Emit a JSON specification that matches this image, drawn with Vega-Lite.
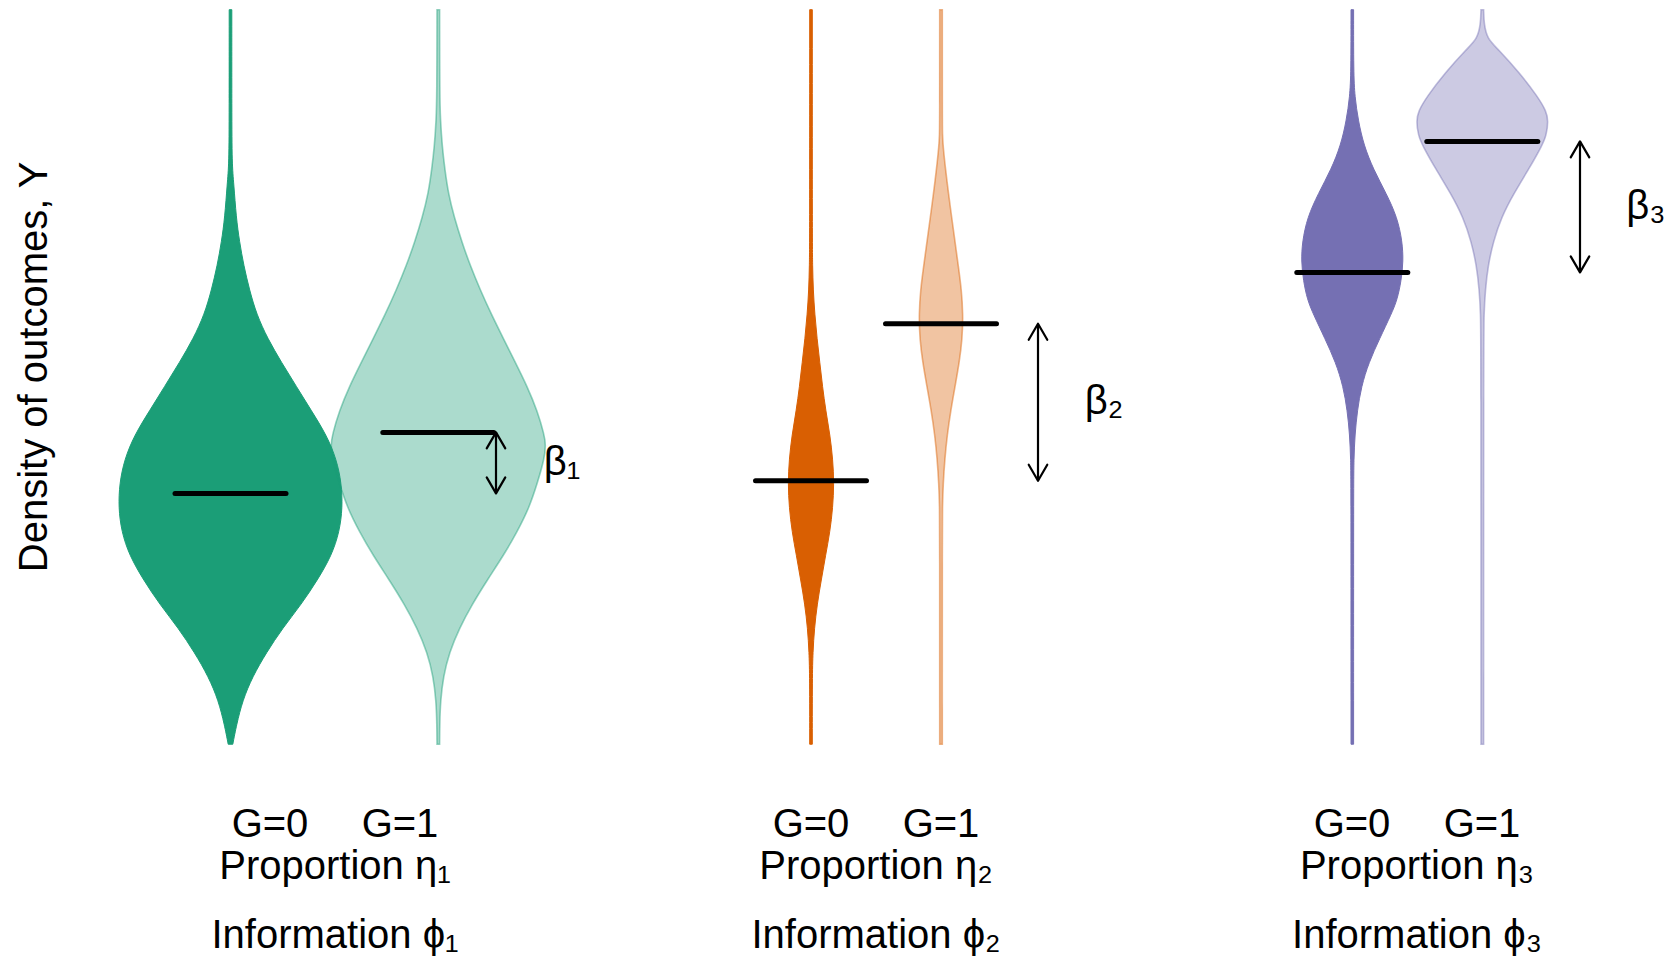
{
  "$schema": "https://vega.github.io/schema/vega-lite/v6.json",
  "width": 1673,
  "height": 956,
  "autosize": {"type": "fit", "contains": "padding"},
  "padding": 0,
  "background": "white",
  "config": {"view": {"stroke": null}, "font": "Liberation Sans"},
  "datasets": {
    "violins": [
      {"id": "1-0", "grp": "1", "G": "0", "pos": 2.305, "mean": 3.37},
      {"id": "1-1", "grp": "1", "G": "1", "pos": 4.383, "mean": 4.19},
      {"id": "2-0", "grp": "2", "G": "0", "pos": 8.11, "mean": 3.54},
      {"id": "2-1", "grp": "2", "G": "1", "pos": 9.41, "mean": 5.65},
      {"id": "3-0", "grp": "3", "G": "0", "pos": 13.523, "mean": 6.34},
      {"id": "3-1", "grp": "3", "G": "1", "pos": 14.823, "mean": 8.10}
    ],
    "density": [
      {"id": "1-0", "y": 9.87, "d": 0.013}, {"id": "1-0", "y": 8.5, "d": 0.013}, {"id": "1-0", "y": 7.79, "d": 0.015}, {"id": "1-0", "y": 7.532, "d": 0.033}, {"id": "1-0", "y": 7.078, "d": 0.057}, {"id": "1-0", "y": 6.753, "d": 0.09}, {"id": "1-0", "y": 6.428, "d": 0.133}, {"id": "1-0", "y": 6.104, "d": 0.19}, {"id": "1-0", "y": 5.779, "d": 0.26}, {"id": "1-0", "y": 5.454, "d": 0.37}, {"id": "1-0", "y": 5.13, "d": 0.51}, {"id": "1-0", "y": 4.805, "d": 0.66}, {"id": "1-0", "y": 4.48, "d": 0.81}, {"id": "1-0", "y": 4.155, "d": 0.96}, {"id": "1-0", "y": 3.83, "d": 1.06}, {"id": "1-0", "y": 3.506, "d": 1.11}, {"id": "1-0", "y": 3.181, "d": 1.12}, {"id": "1-0", "y": 2.857, "d": 1.09}, {"id": "1-0", "y": 2.532, "d": 1.01}, {"id": "1-0", "y": 2.207, "d": 0.87}, {"id": "1-0", "y": 1.883, "d": 0.71}, {"id": "1-0", "y": 1.558, "d": 0.52}, {"id": "1-0", "y": 1.233, "d": 0.36}, {"id": "1-0", "y": 0.908, "d": 0.22}, {"id": "1-0", "y": 0.584, "d": 0.12}, {"id": "1-0", "y": 0.259, "d": 0.06}, {"id": "1-0", "y": 0.0, "d": 0.023},
      {"id": "1-1", "y": 9.87, "d": 0.013}, {"id": "1-1", "y": 8.70, "d": 0.014}, {"id": "1-1", "y": 8.376, "d": 0.022}, {"id": "1-1", "y": 8.05, "d": 0.038}, {"id": "1-1", "y": 7.727, "d": 0.065}, {"id": "1-1", "y": 7.40, "d": 0.10}, {"id": "1-1", "y": 7.078, "d": 0.16}, {"id": "1-1", "y": 6.753, "d": 0.235}, {"id": "1-1", "y": 6.428, "d": 0.32}, {"id": "1-1", "y": 6.104, "d": 0.42}, {"id": "1-1", "y": 5.779, "d": 0.53}, {"id": "1-1", "y": 5.454, "d": 0.65}, {"id": "1-1", "y": 5.13, "d": 0.77}, {"id": "1-1", "y": 4.805, "d": 0.89}, {"id": "1-1", "y": 4.48, "d": 0.99}, {"id": "1-1", "y": 4.155, "d": 1.06}, {"id": "1-1", "y": 4.025, "d": 1.075}, {"id": "1-1", "y": 3.83, "d": 1.06}, {"id": "1-1", "y": 3.506, "d": 0.99}, {"id": "1-1", "y": 3.181, "d": 0.91}, {"id": "1-1", "y": 2.857, "d": 0.79}, {"id": "1-1", "y": 2.532, "d": 0.65}, {"id": "1-1", "y": 2.207, "d": 0.49}, {"id": "1-1", "y": 1.883, "d": 0.34}, {"id": "1-1", "y": 1.558, "d": 0.21}, {"id": "1-1", "y": 1.233, "d": 0.11}, {"id": "1-1", "y": 0.908, "d": 0.05}, {"id": "1-1", "y": 0.584, "d": 0.022}, {"id": "1-1", "y": 0.259, "d": 0.014}, {"id": "1-1", "y": 0.0, "d": 0.013},
      {"id": "2-0", "y": 9.87, "d": 0.013}, {"id": "2-0", "y": 6.753, "d": 0.013}, {"id": "2-0", "y": 6.428, "d": 0.016}, {"id": "2-0", "y": 6.104, "d": 0.022}, {"id": "2-0", "y": 5.779, "d": 0.038}, {"id": "2-0", "y": 5.454, "d": 0.06}, {"id": "2-0", "y": 5.13, "d": 0.088}, {"id": "2-0", "y": 4.805, "d": 0.115}, {"id": "2-0", "y": 4.48, "d": 0.148}, {"id": "2-0", "y": 4.155, "d": 0.19}, {"id": "2-0", "y": 3.83, "d": 0.218}, {"id": "2-0", "y": 3.506, "d": 0.23}, {"id": "2-0", "y": 3.181, "d": 0.218}, {"id": "2-0", "y": 2.857, "d": 0.19}, {"id": "2-0", "y": 2.532, "d": 0.145}, {"id": "2-0", "y": 2.207, "d": 0.103}, {"id": "2-0", "y": 1.883, "d": 0.062}, {"id": "2-0", "y": 1.558, "d": 0.034}, {"id": "2-0", "y": 1.233, "d": 0.019}, {"id": "2-0", "y": 0.908, "d": 0.013}, {"id": "2-0", "y": 0.0, "d": 0.013},
      {"id": "2-1", "y": 9.87, "d": 0.013}, {"id": "2-1", "y": 8.376, "d": 0.013}, {"id": "2-1", "y": 8.18, "d": 0.015}, {"id": "2-1", "y": 8.05, "d": 0.02}, {"id": "2-1", "y": 7.727, "d": 0.045}, {"id": "2-1", "y": 7.40, "d": 0.075}, {"id": "2-1", "y": 7.078, "d": 0.107}, {"id": "2-1", "y": 6.753, "d": 0.14}, {"id": "2-1", "y": 6.428, "d": 0.173}, {"id": "2-1", "y": 6.104, "d": 0.205}, {"id": "2-1", "y": 5.779, "d": 0.22}, {"id": "2-1", "y": 5.454, "d": 0.213}, {"id": "2-1", "y": 5.13, "d": 0.183}, {"id": "2-1", "y": 4.805, "d": 0.14}, {"id": "2-1", "y": 4.48, "d": 0.097}, {"id": "2-1", "y": 4.155, "d": 0.062}, {"id": "2-1", "y": 3.83, "d": 0.038}, {"id": "2-1", "y": 3.506, "d": 0.022}, {"id": "2-1", "y": 3.181, "d": 0.014}, {"id": "2-1", "y": 2.857, "d": 0.013}, {"id": "2-1", "y": 0.0, "d": 0.013},
      {"id": "3-0", "y": 9.87, "d": 0.013}, {"id": "3-0", "y": 9.026, "d": 0.013}, {"id": "3-0", "y": 8.70, "d": 0.025}, {"id": "3-0", "y": 8.376, "d": 0.06}, {"id": "3-0", "y": 8.05, "d": 0.115}, {"id": "3-0", "y": 7.727, "d": 0.21}, {"id": "3-0", "y": 7.40, "d": 0.34}, {"id": "3-0", "y": 7.078, "d": 0.45}, {"id": "3-0", "y": 6.753, "d": 0.50}, {"id": "3-0", "y": 6.493, "d": 0.51}, {"id": "3-0", "y": 6.233, "d": 0.49}, {"id": "3-0", "y": 5.974, "d": 0.45}, {"id": "3-0", "y": 5.779, "d": 0.39}, {"id": "3-0", "y": 5.454, "d": 0.275}, {"id": "3-0", "y": 5.13, "d": 0.165}, {"id": "3-0", "y": 4.805, "d": 0.09}, {"id": "3-0", "y": 4.48, "d": 0.05}, {"id": "3-0", "y": 4.155, "d": 0.026}, {"id": "3-0", "y": 3.83, "d": 0.016}, {"id": "3-0", "y": 3.506, "d": 0.013}, {"id": "3-0", "y": 0.0, "d": 0.013},
      {"id": "3-1", "y": 9.87, "d": 0.013}, {"id": "3-1", "y": 9.675, "d": 0.017}, {"id": "3-1", "y": 9.48, "d": 0.05}, {"id": "3-1", "y": 9.35, "d": 0.15}, {"id": "3-1", "y": 9.026, "d": 0.37}, {"id": "3-1", "y": 8.70, "d": 0.555}, {"id": "3-1", "y": 8.506, "d": 0.64}, {"id": "3-1", "y": 8.376, "d": 0.66}, {"id": "3-1", "y": 8.18, "d": 0.64}, {"id": "3-1", "y": 8.05, "d": 0.60}, {"id": "3-1", "y": 7.727, "d": 0.465}, {"id": "3-1", "y": 7.40, "d": 0.315}, {"id": "3-1", "y": 7.078, "d": 0.19}, {"id": "3-1", "y": 6.753, "d": 0.11}, {"id": "3-1", "y": 6.428, "d": 0.057}, {"id": "3-1", "y": 6.104, "d": 0.03}, {"id": "3-1", "y": 5.779, "d": 0.017}, {"id": "3-1", "y": 5.454, "d": 0.013}, {"id": "3-1", "y": 0.0, "d": 0.013}
    ],
    "arrows": [
      {"label": "β₁", "x": 4.96, "top": 4.19, "bottom": 3.37},
      {"label": "β₂", "x": 10.38, "top": 5.65, "bottom": 3.54},
      {"label": "β₃", "x": 15.80, "top": 8.10, "bottom": 6.34}
    ],
    "labels": [
      {"t": "G=0", "x": 2.70, "y": -1.248}, {"t": "G=1", "x": 4.00, "y": -1.248},
      {"t": "G=0", "x": 8.11, "y": -1.248}, {"t": "G=1", "x": 9.41, "y": -1.248},
      {"t": "G=0", "x": 13.52, "y": -1.248}, {"t": "G=1", "x": 14.82, "y": -1.248},
      {"t": "Proportion η₁", "x": 3.35, "y": -1.812}, {"t": "Proportion η₂", "x": 8.76, "y": -1.812}, {"t": "Proportion η₃", "x": 14.17, "y": -1.812},
      {"t": "Information ϕ₁", "x": 3.35, "y": -2.738}, {"t": "Information ϕ₂", "x": 8.76, "y": -2.738}, {"t": "Information ϕ₃", "x": 14.17, "y": -2.738}
    ],
    "ytitle": [{"t": "Density of outcomes, Y", "x": 0.47, "y": 5.07}]
  },
  "layer": [
    {
      "data": {"name": "density"},
      "transform": [
        {"lookup": "id", "from": {"data": {"name": "violins"}, "key": "id", "fields": ["grp", "G", "pos"]}},
        {"filter": "datum.G === '0'"},
        {"calculate": "datum.pos - datum.d", "as": "lo"},
        {"calculate": "datum.pos + datum.d", "as": "hi"}
      ],
      "mark": {"type": "area", "orient": "horizontal", "interpolate": "basis", "strokeWidth": 1},
      "encoding": {
        "y": {"field": "y", "type": "quantitative", "scale": {"domain": [-2.832, 10], "nice": false, "zero": false}, "axis": null},
        "x": {"field": "lo", "type": "quantitative", "scale": {"domain": [0, 16.73], "nice": false, "zero": false}, "axis": null},
        "x2": {"field": "hi"},
        "detail": {"field": "id"},
        "fill": {"field": "grp", "type": "nominal", "scale": {"domain": ["1", "2", "3"], "range": ["#1B9E77", "#D95F02", "#7570B3"]}, "legend": null},
        "stroke": {"field": "grp", "type": "nominal", "scale": {"domain": ["1", "2", "3"], "range": ["#1B9E77", "#D95F02", "#7570B3"]}, "legend": null}
      }
    },
    {
      "data": {"name": "density"},
      "transform": [
        {"lookup": "id", "from": {"data": {"name": "violins"}, "key": "id", "fields": ["grp", "G", "pos"]}},
        {"filter": "datum.G === '1'"},
        {"calculate": "datum.pos - datum.d", "as": "lo"},
        {"calculate": "datum.pos + datum.d", "as": "hi"}
      ],
      "mark": {"type": "area", "orient": "horizontal", "interpolate": "basis", "fillOpacity": 0.37, "strokeOpacity": 0.45, "strokeWidth": 1.6},
      "encoding": {
        "y": {"field": "y", "type": "quantitative"},
        "x": {"field": "lo", "type": "quantitative"},
        "x2": {"field": "hi"},
        "detail": {"field": "id"},
        "fill": {"field": "grp", "type": "nominal", "legend": null},
        "stroke": {"field": "grp", "type": "nominal", "legend": null}
      }
    },
    {
      "data": {"name": "violins"},
      "transform": [
        {"calculate": "datum.pos - 0.555", "as": "l1"},
        {"calculate": "datum.pos + 0.555", "as": "l2"}
      ],
      "mark": {"type": "rule", "color": "black", "strokeWidth": 5, "strokeCap": "round"},
      "encoding": {
        "x": {"field": "l1", "type": "quantitative"},
        "x2": {"field": "l2"},
        "y": {"field": "mean", "type": "quantitative"}
      }
    },
    {
      "data": {"name": "arrows"},
      "mark": {"type": "rule", "color": "black", "strokeWidth": 2.2},
      "encoding": {
        "x": {"field": "x", "type": "quantitative"},
        "y": {"field": "top", "type": "quantitative"},
        "y2": {"field": "bottom"}
      }
    },
    {
      "data": {"name": "arrows"},
      "mark": {"type": "point", "shape": "M-0.58,1L0,0L0.58,1", "size": 1024, "filled": false, "stroke": "black", "strokeWidth": 2.2, "opacity": 1, "strokeJoin": "round", "strokeCap": "round"},
      "encoding": {
        "x": {"field": "x", "type": "quantitative"},
        "y": {"field": "top", "type": "quantitative"}
      }
    },
    {
      "data": {"name": "arrows"},
      "mark": {"type": "point", "shape": "M-0.58,-1L0,0L0.58,-1", "size": 1024, "filled": false, "stroke": "black", "strokeWidth": 2.2, "opacity": 1, "strokeJoin": "round", "strokeCap": "round"},
      "encoding": {
        "x": {"field": "x", "type": "quantitative"},
        "y": {"field": "bottom", "type": "quantitative"}
      }
    },
    {
      "data": {"name": "arrows"},
      "transform": [
        {"calculate": "datum.x + 0.66", "as": "lx"},
        {"calculate": "(datum.top + datum.bottom) / 2", "as": "ly"}
      ],
      "mark": {"type": "text", "fontSize": 40, "align": "center", "baseline": "middle", "color": "black"},
      "encoding": {
        "x": {"field": "lx", "type": "quantitative"},
        "y": {"field": "ly", "type": "quantitative"},
        "text": {"field": "label"}
      }
    },
    {
      "data": {"name": "labels"},
      "mark": {"type": "text", "fontSize": 40, "align": "center", "baseline": "alphabetic", "color": "black"},
      "encoding": {
        "x": {"field": "x", "type": "quantitative"},
        "y": {"field": "y", "type": "quantitative"},
        "text": {"field": "t"}
      }
    },
    {
      "data": {"name": "ytitle"},
      "mark": {"type": "text", "fontSize": 40, "align": "center", "baseline": "alphabetic", "angle": 270, "color": "black"},
      "encoding": {
        "x": {"field": "x", "type": "quantitative"},
        "y": {"field": "y", "type": "quantitative"},
        "text": {"field": "t"}
      }
    }
  ]
}
